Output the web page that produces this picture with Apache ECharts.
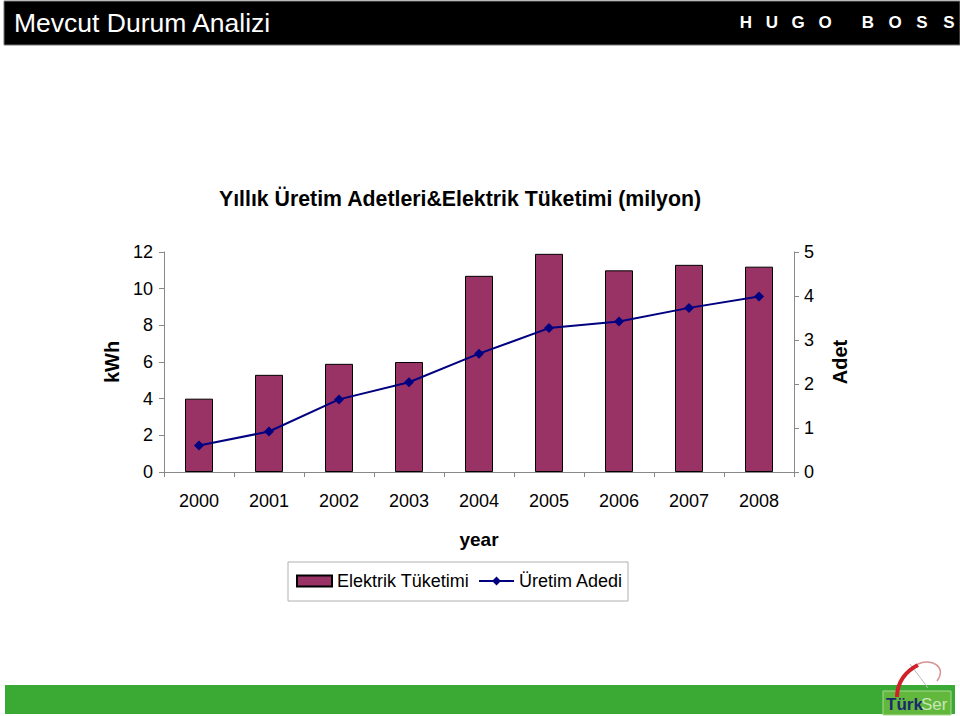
<!DOCTYPE html>
<html>
<head>
<meta charset="utf-8">
<script src="https://cdn.jsdelivr.net/npm/echarts@6/dist/echarts.min.js"></script>
<style>html,body{margin:0;padding:0;background:#fff}#c{width:960px;height:716px}</style>
</head>
<body>
<div id="c"></div>
<script>
const years = ['2000','2001','2002','2003','2004','2005','2006','2007','2008'];
const elektrik = [4.0, 5.3, 5.9, 6.0, 10.7, 11.9, 11.0, 11.3, 11.2];
const uretim = [0.6, 0.92, 1.65, 2.04, 2.69, 3.27, 3.42, 3.73, 3.99];
const leftTicks = {min: 0, max: 12, interval: 2};
const rightTicks = {min: 0, max: 5, interval: 1};

const F = '"Liberation Sans", Arial, sans-serif';
const chart = echarts.init(document.getElementById('c'), null, {renderer: 'svg'});
const hugo = ['H','U','G','O','B','O','S','S'];
const hugoX = [746, 772, 798, 825, 868, 895, 922, 949];
const graphic = [
  {type: 'rect', shape: {x: 4, y: 1, width: 956, height: 44}, style: {fill: '#000', stroke: '#777', lineWidth: 1}},
  {type: 'text', x: 14, y: 23, style: {text: 'Mevcut Durum Analizi', fill: '#fff', font: '26.5px ' + F, textVerticalAlign: 'middle'}},
  {type: 'text', x: 460, y: 199, style: {text: 'Yıllık Üretim Adetleri&Elektrik Tüketimi (milyon)', fill: '#000', font: 'bold 21.3px ' + F, textAlign: 'center', textVerticalAlign: 'middle'}},
  {type: 'rect', shape: {x: 288, y: 562, width: 340, height: 39}, style: {fill: 'none', stroke: '#b0b0b0', lineWidth: 1}},
  {type: 'rect', shape: {x: 5, y: 685, width: 950, height: 29}, style: {fill: '#3aaa35'}},
  {type: 'rect', shape: {x: 883, y: 691, width: 68, height: 24}, style: {fill: '#62b83c', stroke: '#a8d890', lineWidth: 1}},
  {type: 'text', x: 886, y: 704, style: {text: 'Türk', fill: '#1a2a6c', font: 'bold 17px ' + F, textVerticalAlign: 'middle'}},
  {type: 'text', x: 921, y: 704, style: {text: 'Ser', fill: '#c8e6b8', font: '17px ' + F, textVerticalAlign: 'middle'}},
  {type: 'line', shape: {x1: 910, y1: 664, x2: 928, y2: 688}, style: {stroke: '#bbb', lineWidth: 1}},
  {type: 'bezierCurve', shape: {x1: 918, y1: 664, cpx1: 930, cpy1: 658, cpx2: 948, cpy2: 666, x2: 937, y2: 681}, style: {fill: 'none', stroke: '#d89090', lineWidth: 1.5}},
  {type: 'bezierCurve', shape: {x1: 918, y1: 665, cpx1: 906, cpy1: 671, cpx2: 897, cpy2: 682, x2: 897, y2: 697}, style: {fill: 'none', stroke: '#d0202a', lineWidth: 4}}
];
hugo.forEach((ch, i) => graphic.push({type: 'text', x: hugoX[i], y: 22, style: {text: ch, fill: '#fff', font: 'bold 17px ' + F, textAlign: 'center', textVerticalAlign: 'middle'}}));

chart.setOption({
  animation: false,
  textStyle: {fontFamily: F},
  grid: {left: 164, right: 166, top: 252, height: 220},
  legend: {
    left: 291, top: 567, itemWidth: 35, itemHeight: 11, itemGap: 9,
    textStyle: {fontSize: 18, color: '#000', fontFamily: F},
    data: [{name: 'Elektrik Tüketimi', icon: 'rect'}, {name: 'Üretim Adedi'}]
  },
  xAxis: {
    type: 'category', data: years,
    name: 'year', nameLocation: 'middle', nameGap: 58,
    nameTextStyle: {fontSize: 19, fontWeight: 'bold', color: '#000'},
    axisLine: {lineStyle: {color: '#888'}},
    axisTick: {show: true, length: 5, lineStyle: {color: '#888'}},
    axisLabel: {fontSize: 18, color: '#000', margin: 20}
  },
  yAxis: [
    {
      type: 'value', position: 'left', ...leftTicks,
      name: 'kWh', nameLocation: 'middle', nameRotate: 90, nameGap: 40,
      nameTextStyle: {fontSize: 20, fontWeight: 'bold', color: '#000'},
      axisLine: {show: true, lineStyle: {color: '#888'}},
      axisTick: {show: true, length: 5, lineStyle: {color: '#888'}},
      axisLabel: {fontSize: 18, color: '#000', margin: 11},
      splitLine: {show: false}
    },
    {
      type: 'value', position: 'right', ...rightTicks,
      name: 'Adet', nameLocation: 'middle', nameRotate: 90, nameGap: 36,
      nameTextStyle: {fontSize: 20, fontWeight: 'bold', color: '#000'},
      axisLine: {show: true, lineStyle: {color: '#888'}},
      axisTick: {show: true, length: 5, lineStyle: {color: '#888'}},
      axisLabel: {fontSize: 18, color: '#000', margin: 10},
      splitLine: {show: false}
    }
  ],
  series: [
    {
      name: 'Elektrik Tüketimi', type: 'bar', data: elektrik, yAxisIndex: 0,
      barWidth: '40%',
      itemStyle: {color: '#993366', borderColor: '#000', borderWidth: 1}
    },
    {
      name: 'Üretim Adedi', type: 'line', data: uretim, yAxisIndex: 1,
      symbol: 'diamond', symbolSize: 10,
      lineStyle: {color: '#000080', width: 2},
      itemStyle: {color: '#000080'}
    }
  ],
  graphic: graphic
});
</script>
</body>
</html>
